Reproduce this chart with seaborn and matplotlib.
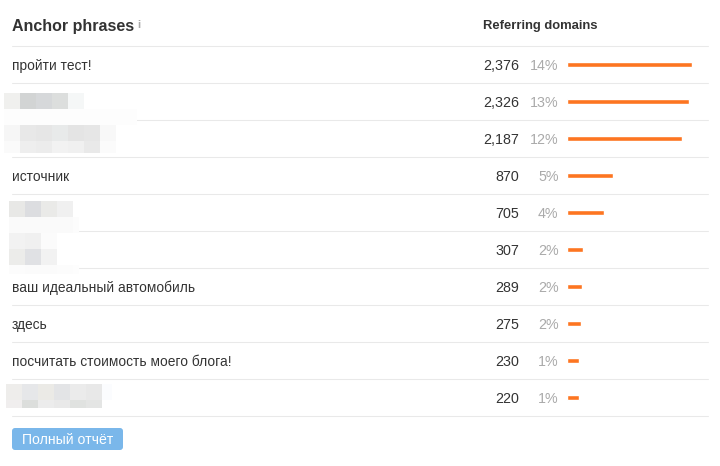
import matplotlib
matplotlib.use('Agg')
import matplotlib.pyplot as plt
from matplotlib.patches import FancyBboxPatch, Rectangle
import pandas as pd
import seaborn as sns

phrases = ['пройти тест!', '', '', 'источник', '', '', 'ваш идеальный автомобиль',
           'здесь', 'посчитать стоимость моего блога!', '']
domains = [2376, 2326, 2187, 870, 705, 307, 289, 275, 230, 220]
percents = [14, 13, 12, 5, 4, 2, 2, 2, 1, 1]

# pixelated blocks hiding some phrases: (x, y, height, right end, colours of 16px cells)
blur_rows = [
    (4, 93, 16, 84, ['#f0f0ee', '#d2d4d4', '#d6d8da', '#dcdedd', '#f5f7f7']),
    (4, 109, 16, 137, ['#fdfdfd'] * 9),
    (4, 125, 16, 116, ['#f6f6f6', '#e8e8e8', '#e6e6e6', '#e8eaea', '#e4e4e4', '#e6e6e6', '#f8f8f8']),
    (4, 141, 12, 116, ['#fafafa', '#eeeeee', '#ececec', '#f2f2f2', '#f0f0f0', '#e9e9e9', '#fbfbfb']),
    (9, 201, 16, 73, ['#e8e8e6', '#dcdde0', '#eaeae8', '#f0f0f0']),
    (9, 217, 16, 79, ['#fafafa', '#fafafa', '#fafafa', '#fafafa', '#fcfcfc']),
    (9, 233, 16, 57, ['#f2f2f2', '#f0f0f0', '#fbfbfb']),
    (9, 249, 16, 57, ['#ececea', '#e0e1e4', '#f2f2f2']),
    (9, 265, 9, 79, ['#fcfcfc', '#fbfbfb', '#fbfbfb', '#fcfcfc', '#fdfdfd']),
    (6, 384, 16, 112, ['#eeedeb', '#e6e7e9', '#ebeae6', '#e3e4e6', '#ebebeb', '#e8e8e8', '#fbfcfe']),
    (6, 400, 8, 102, ['#f0eeee', '#dcdedc', '#ececec', '#e9e9e9', '#e0e2e0', '#e4e5e4']),
]

sns.set_theme(style='white')
plt.rcParams['font.family'] = ['Liberation Sans', 'DejaVu Sans']

W, H = 720, 466
TOP, ROW = 46, 37
fig = plt.figure(figsize=(W / 100, H / 100), dpi=100)

# page layer, in pixels
page = fig.add_axes([0, 0, 1, 1])
page.set_xlim(0, W)
page.set_ylim(H, 0)
page.axis('off')

for i in range(len(domains) + 1):
    page.plot([12, 708], [TOP + i * ROW] * 2, color='#e9e9e9', lw=0.75)

for x0, y0, h, end, cells in blur_rows:
    for j, c in enumerate(cells):
        left = x0 + j * 16
        page.add_patch(Rectangle((left, y0), min(16, end - left), h, fc=c, ec='none', zorder=3))

page.text(12, 26, 'Anchor phrases', fontsize=11.5, fontweight='bold', color='#333333', va='center')
page.text(137.5, 25.5, 'i', fontsize=8, fontweight='bold', color='#aaaaaa', va='center')
page.text(483, 25.5, 'Referring domains', fontsize=9.35, fontweight='bold', color='#333333', va='center')

for i, (p, d, pc) in enumerate(zip(phrases, domains, percents)):
    y = TOP + (i + 0.5) * ROW + 1.5
    page.text(12, y, p, fontsize=9.95, color='#333333', va='center')
    page.text(519.5, y, f'{d:,}', fontsize=10.3, color='#333333', va='center', ha='right')
    page.text(558.5, y, f'{pc}%', fontsize=10.3, color='#aaaaaa', va='center', ha='right')

page.add_patch(FancyBboxPatch((14, 430), 107, 18, boxstyle='round,pad=2,rounding_size=3',
                              fc='#7ab7ea', ec='none'))
page.text(67.5, 439.5, 'Полный отчёт', fontsize=10.1, color='white', va='center', ha='center')

# bars, on the values' own scale
df = pd.DataFrame({'row': [str(i) for i in range(len(domains))], 'domains': domains})
ax = fig.add_axes([567 / W, 1 - (TOP + 10 * ROW) / H, 140 / W, 10 * ROW / H])
sns.barplot(data=df, x='domains', y='row', color='#fd7521', width=5.5 / ROW, saturation=1, ax=ax)
ax.set_xlim(0, 2660)
ax.set_ylim(9.5, -0.5)
ax.axis('off')
ax.patch.set_alpha(0)

fig.savefig('out.png', dpi=100)
